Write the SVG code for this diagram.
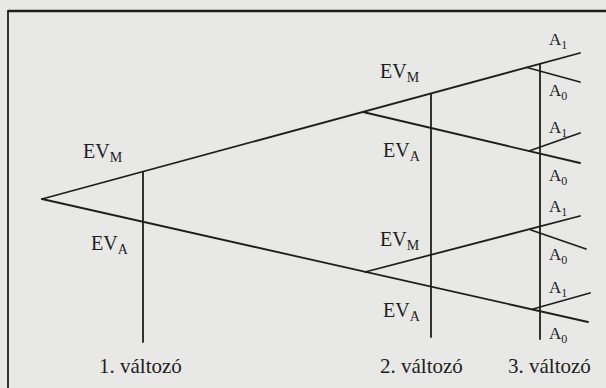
<svg xmlns="http://www.w3.org/2000/svg" width="606" height="388" viewBox="0 0 606 388">
<style>
.ln{stroke:#1e1e1e;stroke-width:1.8;fill:none;stroke-linecap:round}
.ev{font-family:"Liberation Serif",serif;font-size:20px;fill:#1e1e1e}
.sub{font-size:14px}
.a{font-family:"Liberation Serif",serif;font-size:17px;fill:#1e1e1e}
.as{font-size:12px}
.lab{font-family:"Liberation Serif",serif;font-size:21px;fill:#1e1e1e}
</style>
<rect width="606" height="388" fill="#e8e8e6"/>
<g id="frame">
<line x1="8" y1="11" x2="606" y2="11" stroke="#1e1e1e" stroke-width="2.5"/>
<line x1="8" y1="10" x2="8" y2="388" stroke="#1e1e1e" stroke-width="1.8"/>
</g>
<g id="connectors">
<line class="ln" x1="42" y1="199" x2="580" y2="53"/>
<line class="ln" x1="42" y1="199" x2="588" y2="322"/>
<line class="ln" x1="363" y1="112" x2="580" y2="163"/>
<line class="ln" x1="365" y1="272" x2="580" y2="216"/>
<line class="ln" x1="527" y1="67.5" x2="580" y2="82"/>
<line class="ln" x1="529" y1="151" x2="580" y2="133"/>
<line class="ln" x1="531" y1="230" x2="586" y2="249"/>
<line class="ln" x1="533" y1="309" x2="590" y2="293"/>
<line class="ln" x1="143" y1="172" x2="143" y2="342"/>
<line class="ln" x1="431" y1="94" x2="431" y2="337"/>
<line class="ln" x1="540" y1="64" x2="540" y2="339"/>
</g>
<g id="ev-labels">
<text class="ev" x="83" y="158">EV<tspan class="sub" dy="4">M</tspan></text>
<text class="ev" x="91" y="250">EV<tspan class="sub" dy="4">A</tspan></text>
<text class="ev" x="380" y="78">EV<tspan class="sub" dy="4">M</tspan></text>
<text class="ev" x="383" y="157">EV<tspan class="sub" dy="4">A</tspan></text>
<text class="ev" x="380" y="246">EV<tspan class="sub" dy="4">M</tspan></text>
<text class="ev" x="383" y="317">EV<tspan class="sub" dy="4">A</tspan></text>
</g>
<g id="a-labels">
<text class="a" x="549" y="45">A<tspan class="as" dy="4">1</tspan></text>
<text class="a" x="549" y="96">A<tspan class="as" dy="4">0</tspan></text>
<text class="a" x="549" y="133">A<tspan class="as" dy="4">1</tspan></text>
<text class="a" x="549" y="181">A<tspan class="as" dy="4">0</tspan></text>
<text class="a" x="549" y="212">A<tspan class="as" dy="4">1</tspan></text>
<text class="a" x="549" y="260">A<tspan class="as" dy="4">0</tspan></text>
<text class="a" x="549" y="293">A<tspan class="as" dy="4">1</tspan></text>
<text class="a" x="549" y="339">A<tspan class="as" dy="4">0</tspan></text>
</g>
<g id="axis-labels">
<text class="lab" x="99" y="373">1. változó</text>
<text class="lab" x="380" y="373">2. változó</text>
<text class="lab" x="508" y="373">3. változó</text>
</g>
</svg>
